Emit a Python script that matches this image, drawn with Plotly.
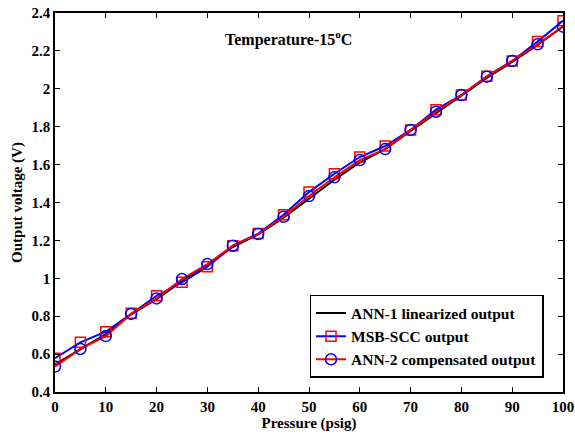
import plotly.graph_objects as go

pressure = [0, 5, 10, 15, 20, 25, 30, 35, 40, 45, 50, 55, 60, 65, 70, 75, 80, 85, 90, 95, 100]
ann1 = [0.545, 0.625, 0.705, 0.81, 0.89, 0.985, 1.07, 1.165, 1.232, 1.32, 1.42, 1.52, 1.612, 1.682, 1.778, 1.872, 1.962, 2.058, 2.142, 2.232, 2.328]
msb_scc = [0.578, 0.662, 0.718, 0.815, 0.908, 0.979, 1.061, 1.172, 1.236, 1.335, 1.455, 1.552, 1.640, 1.698, 1.783, 1.890, 1.967, 2.066, 2.147, 2.249, 2.359]
ann2 = [0.534, 0.627, 0.695, 0.812, 0.894, 0.996, 1.075, 1.172, 1.234, 1.325, 1.434, 1.533, 1.624, 1.682, 1.783, 1.879, 1.967, 2.064, 2.147, 2.235, 2.328]

font_family = "Times New Roman, Liberation Serif, serif"

fig = go.Figure()
fig.add_trace(go.Scatter(x=pressure, y=ann1, mode="lines", name="ANN-1 linearized output",
                         line=dict(color="black", width=2)))
fig.add_trace(go.Scatter(x=pressure, y=msb_scc, mode="lines+markers", name="MSB-SCC output",
                         line=dict(color="blue", width=2),
                         marker=dict(symbol="square-open", size=10, color="red", line=dict(width=1.5, color="red"))))
fig.add_trace(go.Scatter(x=pressure, y=ann2, mode="lines+markers", name="ANN-2 compensated output",
                         line=dict(color="red", width=2),
                         marker=dict(symbol="circle-open", size=11, color="blue", line=dict(width=1.5, color="blue"))))

axis_common = dict(showline=True, linecolor="black", linewidth=1.5, mirror="allticks",
                   ticks="inside", ticklen=5, tickcolor="black", showgrid=False, zeroline=False,
                   automargin=False,
                   tickfont=dict(family=font_family, size=15, color="black", weight=700))

fig.update_xaxes(range=[0, 100], dtick=10, tick0=0,
                 title=dict(text="<b>Pressure (psig)</b>", font=dict(family=font_family, size=15, color="black", weight=700), standoff=1),
                 **axis_common)
fig.update_yaxes(range=[0.4, 2.4], dtick=0.2, tick0=0.4,
                 title=dict(text="<b>Output voltage (V)</b>", font=dict(family=font_family, size=15, color="black", weight=700), standoff=5),
                 **axis_common)

fig.add_annotation(x=0.459, y=0.965, xref="paper", yref="paper", showarrow=False,
                   text="<b>Temperature-15<sup>o</sup>C</b>",
                   font=dict(family=font_family, size=16, color="black", weight=700))

fig.update_layout(
    width=575, height=434,
    margin=dict(l=55, r=12, t=13, b=42),
    plot_bgcolor="white", paper_bgcolor="white",
    legend=dict(x=0.501, y=0.037, xanchor="left", yanchor="bottom",
                bgcolor="white", bordercolor="black", borderwidth=1.5,
                font=dict(family=font_family, size=15.5, color="black", weight=700),
                itemwidth=30, tracegroupgap=0),
    showlegend=True,
)

fig.write_html("out.html")
